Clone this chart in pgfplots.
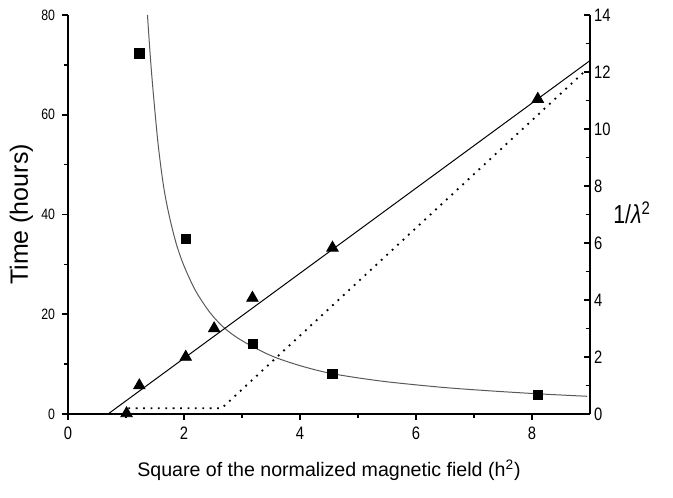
\documentclass[border=0pt]{standalone}
\usepackage{fontspec}
\setmainfont{Liberation Sans}
\newfontfamily\narrow[FakeStretch=0.82]{Liberation Sans}
\usepackage{graphicx}
\usepackage{pgfplots}
\usepackage{pgfplotstable}
\pgfplotsset{compat=1.18}

\pgfplotstableread{
x y
1.23 72.3
2.03 35.1
3.19 14.1
4.56 8.0
8.10 3.85
}\squares

\pgfplotstableread{
x y
1.01 0.02
1.23 1.00
2.03 2.00
2.52 3.00
3.18 4.07
4.56 5.83
8.10 11.05
}\triangles

\pgfplotstableread{
x y
1.37 80.0
1.44 68.5
1.55 54.5
1.65 45.5
1.75 39.5
1.87 34.0
2.00 29.7
2.20 24.7
2.45 20.3
2.70 17.2
3.00 14.7
3.50 11.7
4.00 9.7
4.55 8.1
5.40 6.6
6.40 5.4
7.20 4.7
8.10 4.05
8.95 3.55
}\curve

\pgfplotstableread{
x y
0.69 0
9.00 12.4
}\fitline

\pgfplotstableread{
x y
1.04 0.2
2.65 0.2
8.95 12.1
}\dotline

\begin{document}
\begin{tikzpicture}
\begin{axis}[
  scale only axis, width=261pt, height=199.5pt,
  xmin=0, xmax=9, ymin=0, ymax=80,
  axis x line*=bottom, axis y line*=left,
  xtick={0,2,4,6,8}, minor xtick={1,3,5,7},
  ytick={0,20,40,60,80}, minor ytick={10,30,50,70},
  tick align=outside,
  major tick length=3pt, minor tick length=1.8pt,
  every tick/.style={black, line width=0.8pt},
  axis line style={line width=1pt},
  /pgf/number format/assume math mode=true,
  yticklabel style={font={\narrow\fontsize{7.5}{8}\selectfont}},
  xticklabel style={font={\narrow\fontsize{9}{10}\selectfont}},
  xlabel={Square of the normalized magnetic field (h\textsuperscript{2})},
  ylabel={Time (hours)},
  xlabel style={font=\fontsize{9.8}{11}\selectfont, yshift=-3pt},
  ylabel style={font=\fontsize{12.5}{14}\selectfont, at={(axis description cs:-0.077,0.5)}, anchor=base},
]
\coordinate (bl) at (rel axis cs:0,0);
\addplot[black!65, line width=0.5pt, smooth] table {\curve};
\addplot[only marks, mark=square*, mark size=2.3pt, black] table {\squares};
\end{axis}
\begin{axis}[
  scale only axis, width=261pt, height=199.5pt,
  xmin=0, xmax=9, ymin=0, ymax=14,
  axis x line=none, axis y line*=right,
  ytick={0,2,...,14}, minor ytick={1,3,...,13},
  tick align=inside,
  major tick length=3pt, minor tick length=1.8pt,
  every tick/.style={black, line width=0.8pt},
  axis line style={line width=1pt},
  /pgf/number format/assume math mode=true,
  yticklabel style={font={\narrow\fontsize{9}{10}\selectfont}, xshift=-1.5pt},
  ylabel={1/{\itshape λ}\textsuperscript{2}},
  ylabel style={rotate=-90, anchor=west, at={(axis description cs:1.031,0.505)}, font={\narrow\fontsize{13}{14}\selectfont}},
]
\addplot[black, line width=0.5pt] table {\fitline};
\addplot[black, line width=0.9pt, dash pattern=on 0.9pt off 2.8pt] table {\dotline};
\addplot[only marks, mark=triangle*, mark size=3.3pt, black] table {\triangles};
\end{axis}
\path ([shift={(-34pt,-41.5pt)}]bl) rectangle ++(336.5pt,248.5pt);
\end{tikzpicture}
\end{document}
